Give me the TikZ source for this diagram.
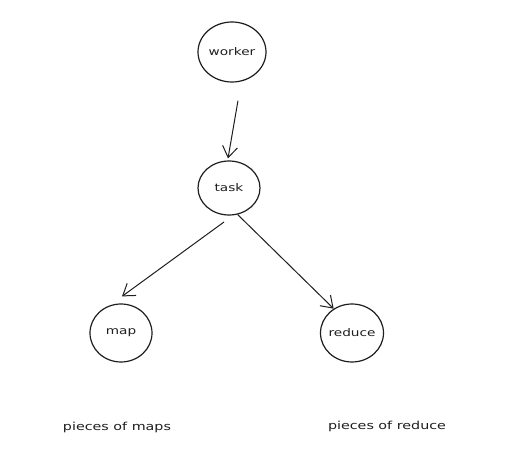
\documentclass[tikz,border=0pt]{standalone}
\usepackage{fontspec}
\newfontfamily\handfont[FakeStretch=1.3]{DejaVu Sans}
\usetikzlibrary{arrows.meta, positioning, shapes.geometric}
\definecolor{inkgray}{HTML}{1E1E1E}

\begin{document}
\begin{tikzpicture}[x=1pt, y=-1pt,
  >={Straight Barb[length=11pt, width=15pt]},
  jobnode/.style={
    ellipse, draw=inkgray, line width=1.2pt, fill=white,
    minimum width=#1, minimum height=58pt, inner sep=0pt, inner xsep=-4pt,
    font=\handfont\fontsize{10.5}{12}\selectfont, text=inkgray
  },
  flow/.style={->, draw=inkgray, line width=1pt},
  note/.style={font=\handfont\fontsize{11}{13}\selectfont, text=inkgray},
]

% Background
\fill[white] (0,0) rectangle (515,460);
\useasboundingbox (0,0) rectangle (515,460);

% Nodes
\node[jobnode=68pt, minimum height=60pt] (worker) at (232,52) {worker};
\node[jobnode=62pt, minimum height=54pt] (task) at (229,188) {task};
\node[jobnode=62pt] (map) at (121,333) {map};
\node[jobnode=63pt] (reduce) at (352,333) {reduce};

% Connectors
\draw[flow] ([shift={(6,18)}]worker.south) -- ([shift={(-1,-2)}]task.north);
\draw[flow] ([shift={(-5,34)}]task.center) -- ([shift={(1,-7)}]map.north);
\draw[flow] (task.-72) -- (reduce.127);

% Notes
\node[note] (mapnote) at (117,427) {pieces of maps};
\node[note] (reducenote) at (387,426) {pieces of reduce};

\end{tikzpicture}
\end{document}
